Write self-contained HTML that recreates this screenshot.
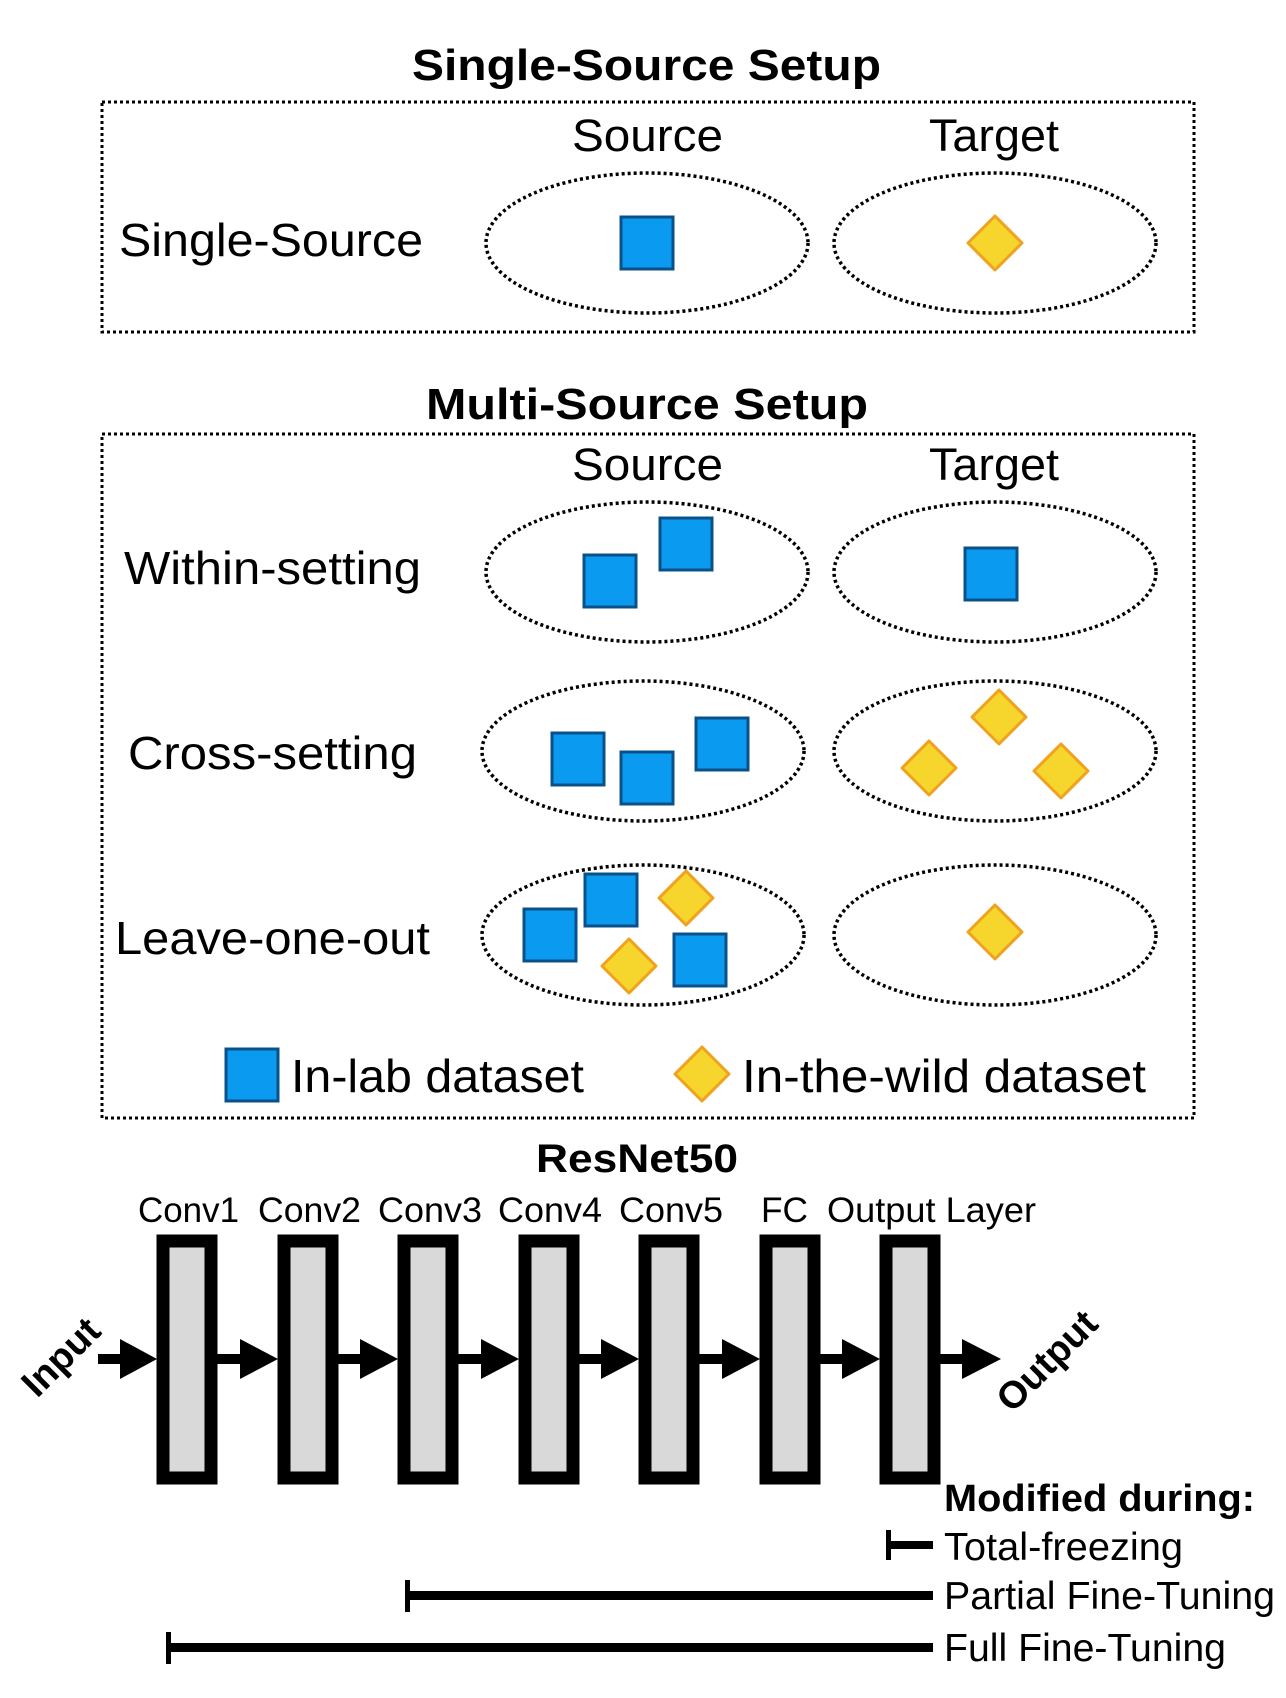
<!DOCTYPE html>
<html><head><meta charset="utf-8"><style>
html,body{margin:0;padding:0;background:#fff;}
svg{display:block;}
text{font-family:"Liberation Sans",Arial,sans-serif;fill:#000;}
.b{font-weight:bold;}
</style></head><body>
<svg width="1286" height="1698" viewBox="0 0 1286 1698" xmlns="http://www.w3.org/2000/svg">
<defs>
<g id="sq"><rect x="-26" y="-26" width="52" height="52" fill="#0a9af0" stroke="#0b5189" stroke-width="3"/></g>
<g id="dm"><polygon points="0,-27 27,0 0,27 -27,0" fill="#f6d52c" stroke="#f0a21e" stroke-width="3" stroke-linejoin="round"/></g>
<g id="el"><ellipse cx="0" cy="0" rx="161" ry="70" fill="none" stroke="#000" stroke-width="3.5" stroke-dasharray="3 3"/></g>
</defs>
<g fill="none" stroke="#000" stroke-width="3" stroke-dasharray="3 3">
<rect x="102" y="102" width="1092" height="230"/>
<rect x="102" y="434" width="1092" height="684"/>
</g>
<text x="412" y="80" font-size="44" class="b" textLength="469" lengthAdjust="spacingAndGlyphs">Single-Source Setup</text>
<text x="572" y="151" font-size="45" textLength="151" lengthAdjust="spacingAndGlyphs">Source</text>
<text x="929" y="151" font-size="45" textLength="130" lengthAdjust="spacingAndGlyphs">Target</text>
<text x="119" y="256" font-size="46" textLength="304" lengthAdjust="spacingAndGlyphs">Single-Source</text>
<use href="#el" x="647" y="243"/><use href="#el" x="995" y="243"/>
<use href="#sq" x="647" y="243"/><use href="#dm" x="995" y="243"/>

<text x="426" y="419" font-size="44" class="b" textLength="442" lengthAdjust="spacingAndGlyphs">Multi-Source Setup</text>
<text x="572" y="480" font-size="45" textLength="151" lengthAdjust="spacingAndGlyphs">Source</text>
<text x="929" y="480" font-size="45" textLength="130" lengthAdjust="spacingAndGlyphs">Target</text>

<text x="124" y="584" font-size="46" textLength="297" lengthAdjust="spacingAndGlyphs">Within-setting</text>
<use href="#el" x="647" y="572"/><use href="#el" x="995" y="572"/>
<use href="#sq" x="610" y="581"/><use href="#sq" x="686" y="544"/><use href="#sq" x="991" y="574"/>

<text x="128" y="769" font-size="46" textLength="289" lengthAdjust="spacingAndGlyphs">Cross-setting</text>
<use href="#el" x="643" y="751"/><use href="#el" x="995" y="751"/>
<use href="#sq" x="578" y="759"/><use href="#sq" x="647" y="778"/><use href="#sq" x="722" y="744"/>
<use href="#dm" x="999" y="717"/><use href="#dm" x="929" y="768"/><use href="#dm" x="1061" y="771"/>

<text x="115" y="954" font-size="46" textLength="315" lengthAdjust="spacingAndGlyphs">Leave-one-out</text>
<use href="#el" x="643" y="935"/><use href="#el" x="995" y="935"/>
<use href="#sq" x="550" y="935"/><use href="#sq" x="611" y="900"/><use href="#sq" x="700" y="960"/>
<use href="#dm" x="686" y="898"/><use href="#dm" x="629" y="966"/><use href="#dm" x="995" y="932"/>

<use href="#sq" x="252" y="1075"/>
<text x="291" y="1092" font-size="46" textLength="293" lengthAdjust="spacingAndGlyphs">In-lab dataset</text>
<use href="#dm" x="702" y="1074"/>
<text x="742" y="1092" font-size="46" textLength="404" lengthAdjust="spacingAndGlyphs">In-the-wild dataset</text>

<text x="536" y="1172" font-size="40" class="b" textLength="202" lengthAdjust="spacingAndGlyphs">ResNet50</text>
<g font-size="35">
<text x="138" y="1222" textLength="101" lengthAdjust="spacingAndGlyphs">Conv1</text>
<text x="258" y="1222" textLength="103" lengthAdjust="spacingAndGlyphs">Conv2</text>
<text x="378" y="1222" textLength="104" lengthAdjust="spacingAndGlyphs">Conv3</text>
<text x="498" y="1222" textLength="104" lengthAdjust="spacingAndGlyphs">Conv4</text>
<text x="619" y="1222" textLength="104" lengthAdjust="spacingAndGlyphs">Conv5</text>
<text x="761" y="1222" textLength="47" lengthAdjust="spacingAndGlyphs">FC</text>
<text x="827" y="1222" textLength="209" lengthAdjust="spacingAndGlyphs">Output Layer</text>
</g>
<g fill="#d9d9d9" stroke="#000" stroke-width="13">
<rect x="163" y="1241" width="48" height="237"/>
<rect x="284" y="1241" width="48" height="237"/>
<rect x="404" y="1241" width="48" height="237"/>
<rect x="525" y="1241" width="48" height="237"/>
<rect x="645" y="1241" width="48" height="237"/>
<rect x="766" y="1241" width="48" height="237"/>
<rect x="886" y="1241" width="48" height="237"/>
</g>
<g fill="#000">
<rect x="98" y="1354" width="24" height="10"/><polygon points="120,1339 157,1359 120,1379"/>
<rect x="217" y="1354" width="24" height="10"/><polygon points="240,1339 278,1359 240,1379"/>
<rect x="338" y="1354" width="24" height="10"/><polygon points="360,1339 398,1359 360,1379"/>
<rect x="458" y="1354" width="24" height="10"/><polygon points="481,1339 519,1359 481,1379"/>
<rect x="579" y="1354" width="24" height="10"/><polygon points="601,1339 639,1359 601,1379"/>
<rect x="699" y="1354" width="24" height="10"/><polygon points="722,1339 760,1359 722,1379"/>
<rect x="820" y="1354" width="24" height="10"/><polygon points="842,1339 880,1359 842,1379"/>
<rect x="940" y="1354" width="24" height="10"/><polygon points="962,1339 1001,1359 962,1379"/>
</g>
<text x="0" y="0" font-size="38" class="b" text-anchor="middle" transform="translate(70,1366) rotate(-45)">Input</text>
<text x="0" y="0" font-size="38" class="b" text-anchor="middle" transform="translate(1056,1370) rotate(-45)">Output</text>

<text x="944" y="1511" font-size="38" class="b" textLength="311" lengthAdjust="spacingAndGlyphs">Modified during:</text>
<g fill="#000">
<rect x="888" y="1541" width="45" height="8"/><rect x="886" y="1530" width="5" height="30"/>
<rect x="407" y="1591" width="526" height="9"/><rect x="405" y="1580" width="5" height="32"/>
<rect x="168" y="1643" width="765" height="9"/><rect x="166" y="1632" width="5" height="32"/>
</g>
<g font-size="39">
<text x="944" y="1560" textLength="239" lengthAdjust="spacingAndGlyphs">Total-freezing</text>
<text x="944" y="1609" textLength="331" lengthAdjust="spacingAndGlyphs">Partial Fine-Tuning</text>
<text x="944" y="1661" textLength="282" lengthAdjust="spacingAndGlyphs">Full Fine-Tuning</text>
</g>
</svg>
</body></html>
